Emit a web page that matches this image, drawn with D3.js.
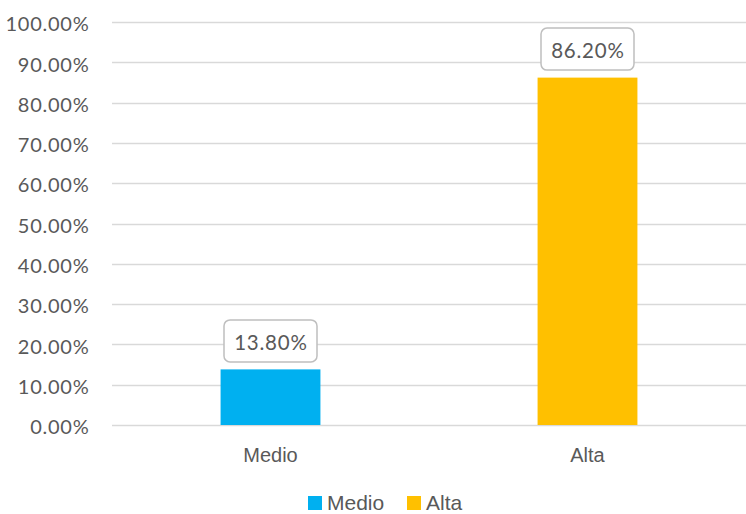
<!DOCTYPE html>
<html><head><meta charset="utf-8">
<script src="https://cdn.jsdelivr.net/npm/d3@7"></script>
<style>body{margin:0;background:#fff}svg{display:block}</style>
</head><body>
<script>
const categories = ["Medio", "Alta"];
const values = [0.138, 0.862];
const colors = ["#00B0F0", "#FFC000"];
const yTicks = [0,0.1,0.2,0.3,0.4,0.5,0.6,0.7,0.8,0.9,1.0];

const W = 746, H = 514;
const svg = d3.select("body").append("svg").attr("width", W).attr("height", H);
const x = d3.scaleBand().domain(categories).range([112, 746]).paddingInner(0.685).paddingOuter(0.3425);
const y = d3.scaleLinear().domain([0, 1]).range([425, 22]);
const fmt = v => (v*100).toFixed(2) + "%";
const numFont = "Lato, 'Open Sans', sans-serif";
const txtFont = "'Liberation Sans', Arial, sans-serif";

// gridlines
svg.append("g").selectAll("line").data(yTicks).join("line")
  .attr("x1", 112).attr("x2", 746)
  .attr("y1", d => Math.round(y(d)) + 0.5).attr("y2", d => Math.round(y(d)) + 0.5)
  .attr("stroke", "#d9d9d9").attr("stroke-width", 1.5);

// y axis
const yAxis = d3.axisLeft(y).tickValues(yTicks).tickFormat(fmt).tickSize(0).tickPadding(0);
const gy = svg.append("g").attr("transform", "translate(89.5,0)").call(yAxis);
gy.select(".domain").remove();
gy.selectAll("text").attr("fill", "#595959").attr("dy", "0.435em")
  .style("font-family", numFont).style("font-size", "20px").style("letter-spacing", "0.75px");

// bars
svg.append("g").selectAll("rect").data(categories).join("rect")
  .attr("x", d => x(d)).attr("width", x.bandwidth())
  .attr("y", (d,i) => y(values[i])).attr("height", (d,i) => y(0) - y(values[i]))
  .attr("fill", (d,i) => colors[i]);

// x axis
const xAxis = d3.axisBottom(x).tickSize(0).tickPadding(0);
const gx = svg.append("g").attr("transform", "translate(0,462)").call(xAxis);
gx.select(".domain").remove();
gx.selectAll("text").attr("fill", "#595959").attr("y", 0).attr("dy", 0)
  .style("font-family", txtFont).style("font-size", "20px");

// data labels
const lbl = svg.append("g").selectAll("g").data(categories).join("g")
  .attr("transform", (d,i) => `translate(${x(d) + x.bandwidth()/2},${y(values[i]) - 28.5})`);
lbl.append("rect").attr("x", -46.5).attr("y", -21).attr("width", 93).attr("height", 42)
  .attr("rx", 6).attr("fill", "#fff").attr("stroke", "#bfbfbf").attr("stroke-width", 1.5);
lbl.append("text").text((d,i) => fmt(values[i])).attr("text-anchor", "middle").attr("y", 9).attr("x", 0.4)
  .attr("fill", "#595959").style("font-family", numFont).style("font-size", "20.5px").style("letter-spacing", "0.75px");

// legend
const legendX = [308, 407];
const lg = svg.append("g").selectAll("g").data(categories).join("g")
  .attr("transform", (d,i) => `translate(${legendX[i]},496)`);
lg.append("rect").attr("width", 14).attr("height", 14).attr("fill", (d,i) => colors[i]);
lg.append("text").text(d => d).attr("x", 19).attr("y", 13.5)
  .attr("fill", "#595959").style("font-family", txtFont).style("font-size", "21px");
</script>
</body></html>
